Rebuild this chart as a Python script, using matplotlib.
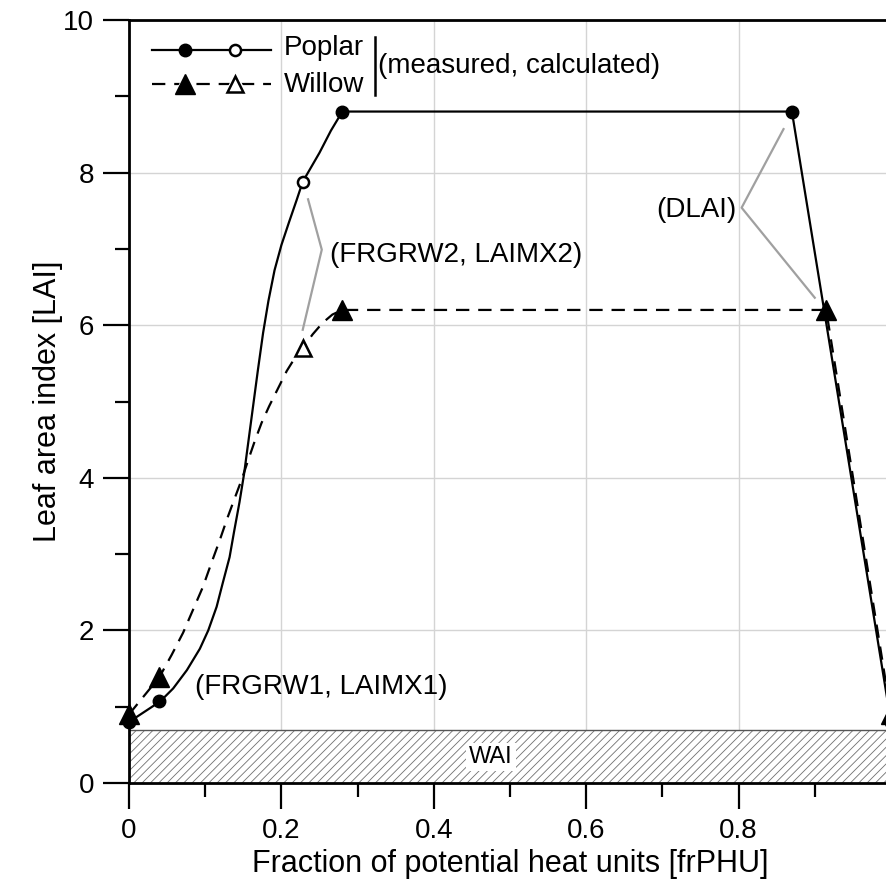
import matplotlib

matplotlib.use("Agg")
import matplotlib.pyplot as plt
from matplotlib.ticker import MultipleLocator, FixedLocator

plt.rcParams["font.family"] = ["Liberation Sans", "DejaVu Sans"]
plt.rcParams["hatch.linewidth"] = 0.6

# poplar line (measured points + curve shape)
poplar_x = [0.0, 0.041, 0.058, 0.076, 0.093, 0.104, 0.115, 0.123, 0.132, 0.138,
            0.145, 0.151, 0.157, 0.163, 0.169, 0.176, 0.183, 0.191, 0.200,
            0.210, 0.220, 0.228, 0.25, 0.265, 0.28, 0.87, 1.0]
poplar_y = [0.8, 1.07, 1.24, 1.48, 1.76, 2.0, 2.31, 2.62, 2.96, 3.30,
            3.68, 4.05, 4.50, 4.95, 5.40, 5.90, 6.32, 6.72, 7.05,
            7.35, 7.64, 7.88, 8.26, 8.55, 8.8, 8.8, 0.8]
poplar_meas_x = [0.0, 0.04, 0.28, 0.87, 1.0]
poplar_meas_y = [0.8, 1.07, 8.8, 8.8, 0.8]
poplar_calc_x = [0.228]
poplar_calc_y = [7.88]

willow_x = [0.0, 0.04, 0.056, 0.071, 0.084, 0.097, 0.108, 0.119, 0.129, 0.139,
            0.148, 0.156, 0.165, 0.174, 0.184, 0.195, 0.207, 0.217, 0.228,
            0.241, 0.254, 0.267, 0.28, 0.915, 1.0]
willow_y = [0.9, 1.39, 1.68, 1.97, 2.27, 2.57, 2.88, 3.18, 3.47, 3.74,
            3.98, 4.22, 4.48, 4.72, 4.94, 5.16, 5.40, 5.56, 5.70,
            5.88, 6.03, 6.14, 6.2, 6.2, 0.9]
willow_meas_x = [0.0, 0.04, 0.28, 0.915, 1.0]
willow_meas_y = [0.9, 1.39, 6.2, 6.2, 0.9]
willow_calc_x = [0.228]
willow_calc_y = [5.70]

wai = 0.7

fig = plt.figure(figsize=(8.86, 8.88), dpi=100)
ax = fig.add_axes([0.1456, 0.1182, 0.86, 0.8593])

# WAI band
ax.fill_between([0, 1], 0, wai, facecolor="white", edgecolor="#707070",
                hatch="////", linewidth=0.0, zorder=1)
ax.axhline(wai, color="#555555", lw=1.0, zorder=1.5)
ax.text(0.475, 0.34, "WAI", fontsize=17, ha="center", va="center",
        bbox=dict(facecolor="white", edgecolor="none", pad=2), zorder=2)

lw = 1.6
ax.plot(poplar_x, poplar_y, color="black", lw=lw, zorder=3, clip_on=False)
ax.plot(willow_x, willow_y, color="black", lw=lw, dashes=(6, 4), zorder=3,
        clip_on=False)
ax.plot(poplar_meas_x, poplar_meas_y, "o", color="black", ms=9, zorder=4,
        clip_on=False)
ax.plot(poplar_calc_x, poplar_calc_y, "o", mfc="white", mec="black", mew=1.8,
        ms=8, zorder=4, clip_on=False)
ax.plot(willow_meas_x, willow_meas_y, "^", color="black", ms=14, zorder=4,
        clip_on=False)
ax.plot(willow_calc_x, willow_calc_y, "^", mfc="white", mec="black", mew=1.8,
        ms=12, zorder=4, clip_on=False)

# annotation brackets
grey = "#a0a0a0"
ax.plot([0.235, 0.253, 0.228], [7.65, 6.99, 5.94], color=grey, lw=1.6, zorder=2)
ax.text(0.264, 6.92, "(FRGRW2, LAIMX2)", fontsize=20, ha="left", va="center")
ax.plot([0.859, 0.804, 0.900], [8.57, 7.54, 6.36], color=grey, lw=1.6, zorder=2)
ax.text(0.797, 7.51, "(DLAI)", fontsize=20, ha="right", va="center")
ax.text(0.087, 1.26, "(FRGRW1, LAIMX1)", fontsize=20, ha="left", va="center")

# hand-made legend
t = ax.transAxes
ax.plot([0.03, 0.186], [0.961, 0.961], color="black", lw=lw, transform=t)
ax.plot([0.073], [0.961], "o", color="black", ms=9, transform=t)
ax.plot([0.139], [0.961], "o", mfc="white", mec="black", mew=1.8, ms=8,
        transform=t)
ax.plot([0.03, 0.186], [0.916, 0.916], color="black", lw=lw, dashes=(6, 4),
        transform=t)
ax.plot([0.073], [0.916], "^", color="white", ms=18, transform=t)
ax.plot([0.139], [0.916], "^", color="white", ms=18, transform=t)
ax.plot([0.073], [0.916], "^", color="black", ms=14, transform=t)
ax.plot([0.139], [0.916], "^", mfc="white", mec="black", mew=1.8, ms=12,
        transform=t)
ax.text(0.203, 0.963, "Poplar", fontsize=20, ha="left", va="center", transform=t)
ax.text(0.203, 0.915, "Willow", fontsize=20, ha="left", va="center", transform=t)
ax.plot([0.323, 0.323], [0.902, 0.978], color="black", lw=1.8, transform=t)
ax.text(0.327, 0.940, "(measured, calculated)", fontsize=20, ha="left",
        va="center", transform=t)

ax.set_xlim(0, 1)
ax.set_ylim(0, 10)
ax.xaxis.set_major_locator(FixedLocator([0, 0.2, 0.4, 0.6, 0.8, 1.0]))
ax.set_xticklabels(["0", "0.2", "0.4", "0.6", "0.8", ""])
ax.xaxis.set_minor_locator(MultipleLocator(0.1))
ax.yaxis.set_major_locator(MultipleLocator(2))
ax.yaxis.set_minor_locator(MultipleLocator(1))
ax.tick_params(which="major", direction="out", length=19, width=1.6,
               labelsize=20, pad=6)
ax.tick_params(which="minor", direction="out", length=10, width=1.6)
ax.grid(True, which="major", color="#d4d4d4", lw=1.0, zorder=0)
ax.set_axisbelow(True)
for s in ax.spines.values():
    s.set_linewidth(2.0)

ax.set_xlabel("Fraction of potential heat units [frPHU]", fontsize=22, labelpad=4)
ax.set_ylabel("Leaf area index [LAI]", fontsize=22, labelpad=0)

fig.savefig("out.png", dpi=100)
